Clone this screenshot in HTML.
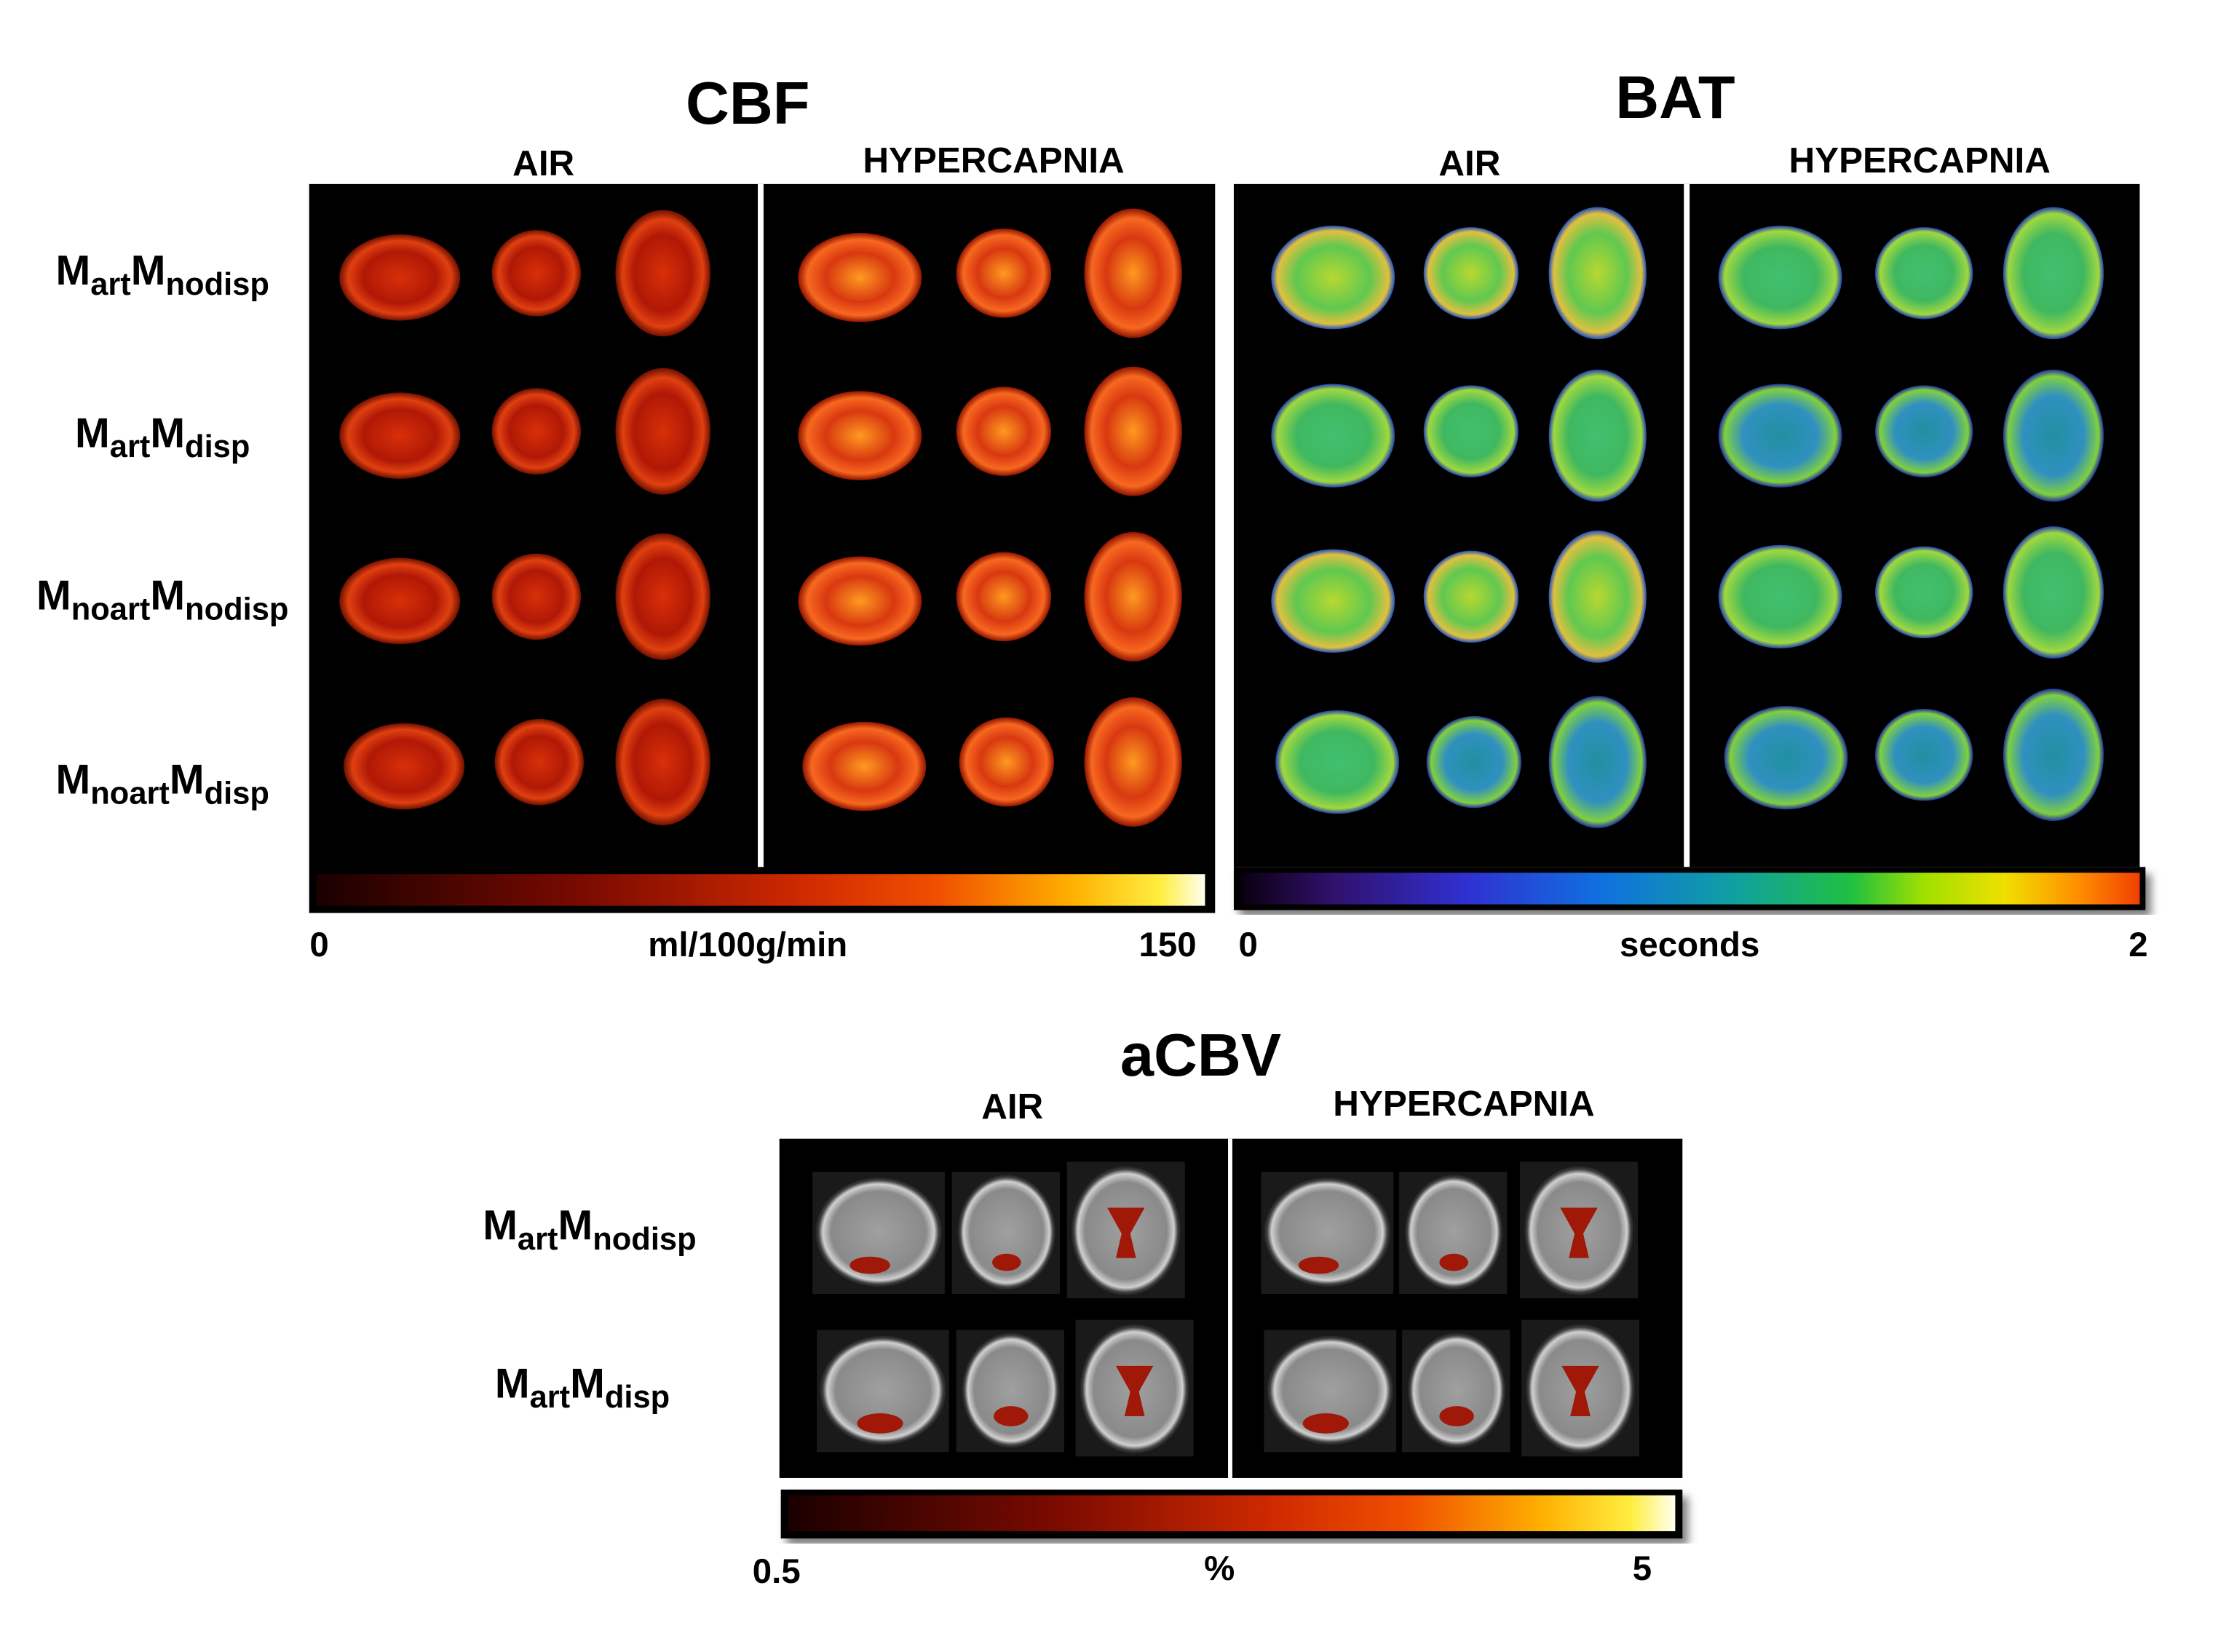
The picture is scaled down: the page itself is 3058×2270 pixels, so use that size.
<!DOCTYPE html>
<html><head><meta charset="utf-8"><style>
html,body{margin:0;padding:0;background:#fff;}
svg{display:block;}
text{font-family:"Liberation Sans",Arial,sans-serif;font-weight:bold;fill:#000;}
</style></head><body>
<svg width="3058" height="2270" viewBox="0 0 1548 1149" preserveAspectRatio="none" xmlns="http://www.w3.org/2000/svg">
<defs>
<linearGradient id="hot" x1="0" x2="1" y1="0" y2="0">
<stop offset="0" stop-color="#1a0000"/><stop offset="0.3" stop-color="#7a0a00"/><stop offset="0.55" stop-color="#d02a00"/><stop offset="0.7" stop-color="#f05000"/><stop offset="0.85" stop-color="#ffb000"/><stop offset="0.95" stop-color="#ffee40"/><stop offset="1" stop-color="#fffff0"/>
</linearGradient>
<linearGradient id="rainbow" x1="0" x2="1" y1="0" y2="0">
<stop offset="0" stop-color="#0a0010"/><stop offset="0.1" stop-color="#30106a"/><stop offset="0.25" stop-color="#3030d0"/><stop offset="0.4" stop-color="#1070e0"/><stop offset="0.55" stop-color="#10a0a0"/><stop offset="0.68" stop-color="#20c040"/><stop offset="0.76" stop-color="#a0e000"/><stop offset="0.85" stop-color="#f0e000"/><stop offset="0.93" stop-color="#ff9000"/><stop offset="1" stop-color="#f04000"/>
</linearGradient>
<radialGradient id="cbfA"><stop offset="0" stop-color="#d83008"/><stop offset="0.6" stop-color="#b01806"/><stop offset="0.85" stop-color="#e04010"/><stop offset="1" stop-color="#701000"/></radialGradient>
<radialGradient id="cbfH"><stop offset="0" stop-color="#ff9a20"/><stop offset="0.55" stop-color="#d83810"/><stop offset="0.85" stop-color="#f86820"/><stop offset="1" stop-color="#901400"/></radialGradient>
<radialGradient id="batA"><stop offset="0" stop-color="#b8d830"/><stop offset="0.6" stop-color="#60c850"/><stop offset="0.9" stop-color="#e0c040"/><stop offset="1" stop-color="#2050c0"/></radialGradient>
<radialGradient id="batH"><stop offset="0" stop-color="#40c070"/><stop offset="0.6" stop-color="#40b860"/><stop offset="0.9" stop-color="#a0d840"/><stop offset="1" stop-color="#2040b0"/></radialGradient>
<radialGradient id="batD"><stop offset="0" stop-color="#2090a0"/><stop offset="0.6" stop-color="#3090c0"/><stop offset="0.9" stop-color="#80d040"/><stop offset="1" stop-color="#2030a0"/></radialGradient>
<radialGradient id="mri"><stop offset="0" stop-color="#a0a0a0"/><stop offset="0.75" stop-color="#8a8a8a"/><stop offset="0.88" stop-color="#d0d0d0"/><stop offset="0.95" stop-color="#404040"/><stop offset="1" stop-color="#202020"/></radialGradient>
<filter id="sh"><feDropShadow dx="4" dy="5" stdDeviation="3" flood-opacity="0.5"/></filter>
</defs>

<text x="520" y="86" font-size="42" text-anchor="middle">CBF</text>
<text x="378" y="122" font-size="25" text-anchor="middle">AIR</text>
<text x="691" y="120" font-size="25" text-anchor="middle">HYPERCAPNIA</text>
<rect x="215" y="128" width="630" height="507" fill="#000"/>
<rect x="527" y="128" width="4" height="475" fill="#fff"/>
<rect x="220" y="608" width="618" height="22" fill="url(#hot)"/>
<text x="222" y="665" font-size="24" text-anchor="middle">0</text>
<text x="520" y="665" font-size="24" text-anchor="middle">ml/100g/min</text>
<text x="812" y="665" font-size="24" text-anchor="middle">150</text>

<text x="1165" y="82" font-size="42" text-anchor="middle">BAT</text>
<text x="1022" y="122" font-size="25" text-anchor="middle">AIR</text>
<text x="1335" y="120" font-size="25" text-anchor="middle">HYPERCAPNIA</text>
<rect x="858" y="128" width="630" height="475" fill="#000"/>
<rect x="1171" y="128" width="4" height="475" fill="#fff"/>
<rect x="858" y="603" width="634" height="30" fill="#000" filter="url(#sh)"/>
<rect x="863" y="607" width="625" height="22" fill="url(#rainbow)"/>
<text x="868" y="665" font-size="24" text-anchor="middle">0</text>
<text x="1175" y="665" font-size="24" text-anchor="middle">seconds</text>
<text x="1487" y="665" font-size="24" text-anchor="middle">2</text>

<g font-size="29">
<text x="113" y="198" text-anchor="middle">M<tspan font-size="22" dy="7">art</tspan><tspan dy="-7">M</tspan><tspan font-size="22" dy="7">nodisp</tspan></text>
<text x="113" y="311" text-anchor="middle">M<tspan font-size="22" dy="7">art</tspan><tspan dy="-7">M</tspan><tspan font-size="22" dy="7">disp</tspan></text>
<text x="113" y="424" text-anchor="middle">M<tspan font-size="22" dy="7">noart</tspan><tspan dy="-7">M</tspan><tspan font-size="22" dy="7">nodisp</tspan></text>
<text x="113" y="552" text-anchor="middle">M<tspan font-size="22" dy="7">noart</tspan><tspan dy="-7">M</tspan><tspan font-size="22" dy="7">disp</tspan></text>
</g>

<g>
<ellipse cx="278" cy="193" rx="42" ry="30" fill="url(#cbfA)"/><ellipse cx="373" cy="190" rx="31" ry="30" fill="url(#cbfA)"/><ellipse cx="461" cy="190" rx="33" ry="44" fill="url(#cbfA)"/>
<ellipse cx="598" cy="193" rx="43" ry="31" fill="url(#cbfH)"/><ellipse cx="698" cy="190" rx="33" ry="31" fill="url(#cbfH)"/><ellipse cx="788" cy="190" rx="34" ry="45" fill="url(#cbfH)"/>
<ellipse cx="278" cy="303" rx="42" ry="30" fill="url(#cbfA)"/><ellipse cx="373" cy="300" rx="31" ry="30" fill="url(#cbfA)"/><ellipse cx="461" cy="300" rx="33" ry="44" fill="url(#cbfA)"/>
<ellipse cx="598" cy="303" rx="43" ry="31" fill="url(#cbfH)"/><ellipse cx="698" cy="300" rx="33" ry="31" fill="url(#cbfH)"/><ellipse cx="788" cy="300" rx="34" ry="45" fill="url(#cbfH)"/>
<ellipse cx="278" cy="418" rx="42" ry="30" fill="url(#cbfA)"/><ellipse cx="373" cy="415" rx="31" ry="30" fill="url(#cbfA)"/><ellipse cx="461" cy="415" rx="33" ry="44" fill="url(#cbfA)"/>
<ellipse cx="598" cy="418" rx="43" ry="31" fill="url(#cbfH)"/><ellipse cx="698" cy="415" rx="33" ry="31" fill="url(#cbfH)"/><ellipse cx="788" cy="415" rx="34" ry="45" fill="url(#cbfH)"/>
<ellipse cx="281" cy="533" rx="42" ry="30" fill="url(#cbfA)"/><ellipse cx="375" cy="530" rx="31" ry="30" fill="url(#cbfA)"/><ellipse cx="461" cy="530" rx="33" ry="44" fill="url(#cbfA)"/>
<ellipse cx="601" cy="533" rx="43" ry="31" fill="url(#cbfH)"/><ellipse cx="700" cy="530" rx="33" ry="31" fill="url(#cbfH)"/><ellipse cx="788" cy="530" rx="34" ry="45" fill="url(#cbfH)"/>
</g>

<g>
<ellipse cx="927" cy="193" rx="43" ry="36" fill="url(#batA)"/><ellipse cx="1023" cy="190" rx="33" ry="32" fill="url(#batA)"/><ellipse cx="1111" cy="190" rx="34" ry="46" fill="url(#batA)"/>
<ellipse cx="1238" cy="193" rx="43" ry="36" fill="url(#batH)"/><ellipse cx="1338" cy="190" rx="34" ry="32" fill="url(#batH)"/><ellipse cx="1428" cy="190" rx="35" ry="46" fill="url(#batH)"/>
<ellipse cx="927" cy="303" rx="43" ry="36" fill="url(#batH)"/><ellipse cx="1023" cy="300" rx="33" ry="32" fill="url(#batH)"/><ellipse cx="1111" cy="303" rx="34" ry="46" fill="url(#batH)"/>
<ellipse cx="1238" cy="303" rx="43" ry="36" fill="url(#batD)"/><ellipse cx="1338" cy="300" rx="34" ry="32" fill="url(#batD)"/><ellipse cx="1428" cy="303" rx="35" ry="46" fill="url(#batD)"/>
<ellipse cx="927" cy="418" rx="43" ry="36" fill="url(#batA)"/><ellipse cx="1023" cy="415" rx="33" ry="32" fill="url(#batA)"/><ellipse cx="1111" cy="415" rx="34" ry="46" fill="url(#batA)"/>
<ellipse cx="1238" cy="415" rx="43" ry="36" fill="url(#batH)"/><ellipse cx="1338" cy="412" rx="34" ry="32" fill="url(#batH)"/><ellipse cx="1428" cy="412" rx="35" ry="46" fill="url(#batH)"/>
<ellipse cx="930" cy="530" rx="43" ry="36" fill="url(#batH)"/><ellipse cx="1025" cy="530" rx="33" ry="32" fill="url(#batD)"/><ellipse cx="1111" cy="530" rx="34" ry="46" fill="url(#batD)"/>
<ellipse cx="1242" cy="527" rx="43" ry="36" fill="url(#batD)"/><ellipse cx="1338" cy="525" rx="34" ry="32" fill="url(#batD)"/><ellipse cx="1428" cy="525" rx="35" ry="46" fill="url(#batD)"/>
</g>

<text x="835" y="748" font-size="42" text-anchor="middle">aCBV</text>
<text x="704" y="778" font-size="25" text-anchor="middle">AIR</text>
<text x="1018" y="776" font-size="25" text-anchor="middle">HYPERCAPNIA</text>
<rect x="542" y="792" width="628" height="236" fill="#000"/>
<rect x="854" y="792" width="3" height="236" fill="#fff"/>
<g fill="#1a1a1a">
<rect x="565" y="815" width="92" height="85"/><rect x="662" y="815" width="75" height="85"/><rect x="742" y="808" width="82" height="95"/>
<rect x="877" y="815" width="92" height="85"/><rect x="973" y="815" width="75" height="85"/><rect x="1057" y="808" width="82" height="95"/>
<rect x="568" y="925" width="92" height="85"/><rect x="665" y="925" width="75" height="85"/><rect x="748" y="918" width="82" height="95"/>
<rect x="879" y="925" width="92" height="85"/><rect x="975" y="925" width="75" height="85"/><rect x="1058" y="918" width="82" height="95"/>
</g>
<g fill="url(#mri)">
<ellipse cx="611" cy="857" rx="44" ry="38"/><ellipse cx="700" cy="857" rx="34" ry="40"/><ellipse cx="783" cy="856" rx="38" ry="45"/>
<ellipse cx="923" cy="857" rx="44" ry="38"/><ellipse cx="1011" cy="857" rx="34" ry="40"/><ellipse cx="1098" cy="856" rx="38" ry="45"/>
<ellipse cx="614" cy="967" rx="44" ry="38"/><ellipse cx="703" cy="967" rx="34" ry="40"/><ellipse cx="789" cy="966" rx="38" ry="45"/>
<ellipse cx="925" cy="967" rx="44" ry="38"/><ellipse cx="1013" cy="967" rx="34" ry="40"/><ellipse cx="1099" cy="966" rx="38" ry="45"/>
</g>
<g fill="#a01808">
<path d="M770 840 L796 840 L786 858 L790 875 L776 875 L780 858 Z"/><path d="M1085 840 L1111 840 L1101 858 L1105 875 L1091 875 L1095 858 Z"/>
<path d="M776 950 L802 950 L792 968 L796 985 L782 985 L786 968 Z"/><path d="M1086 950 L1112 950 L1102 968 L1106 985 L1092 985 L1096 968 Z"/>
<ellipse cx="605" cy="880" rx="14" ry="6"/><ellipse cx="917" cy="880" rx="14" ry="6"/><ellipse cx="612" cy="990" rx="16" ry="7"/><ellipse cx="922" cy="990" rx="16" ry="7"/>
<ellipse cx="700" cy="878" rx="10" ry="6"/><ellipse cx="1011" cy="878" rx="10" ry="6"/><ellipse cx="703" cy="985" rx="12" ry="7"/><ellipse cx="1013" cy="985" rx="12" ry="7"/>
</g>
<g font-size="29">
<text x="410" y="862" text-anchor="middle">M<tspan font-size="22" dy="7">art</tspan><tspan dy="-7">M</tspan><tspan font-size="22" dy="7">nodisp</tspan></text>
<text x="405" y="972" text-anchor="middle">M<tspan font-size="22" dy="7">art</tspan><tspan dy="-7">M</tspan><tspan font-size="22" dy="7">disp</tspan></text>
</g>
<rect x="543" y="1036" width="627" height="34" fill="#000" filter="url(#sh)"/>
<rect x="548" y="1040" width="617" height="25" fill="url(#hot)"/>
<text x="540" y="1101" font-size="24" text-anchor="middle">0.5</text>
<text x="848" y="1099" font-size="24" text-anchor="middle">%</text>
<text x="1142" y="1099" font-size="24" text-anchor="middle">5</text>
</svg>
</body></html>
